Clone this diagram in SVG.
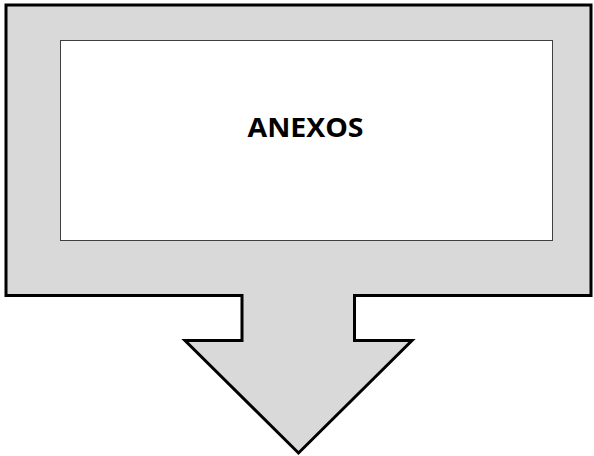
<svg xmlns="http://www.w3.org/2000/svg" width="594" height="456" viewBox="0 0 594 456">
<style>
.callout{fill:#d9d9d9;stroke:#000;stroke-width:3;stroke-linejoin:miter}
.inner{fill:#fff;stroke:#404040;stroke-width:1}
.label{font-family:"Open Sans","Liberation Sans",Arial,sans-serif;font-weight:bold;font-size:26px;fill:#000}
</style>
<rect width="594" height="456" fill="#fff"/>
<g id="callout">
<path class="callout" d="M6,5 H591 V295.5 H354.5 V340.5 H412 L298.5,453 L185,340.5 H242 V295.5 H6 Z"/>
<rect class="inner" x="60.5" y="40.5" width="492" height="200"/>
<text class="label" x="305.5" y="137" text-anchor="middle" textLength="116" lengthAdjust="spacingAndGlyphs">ANEXOS</text>
</g>
</svg>
